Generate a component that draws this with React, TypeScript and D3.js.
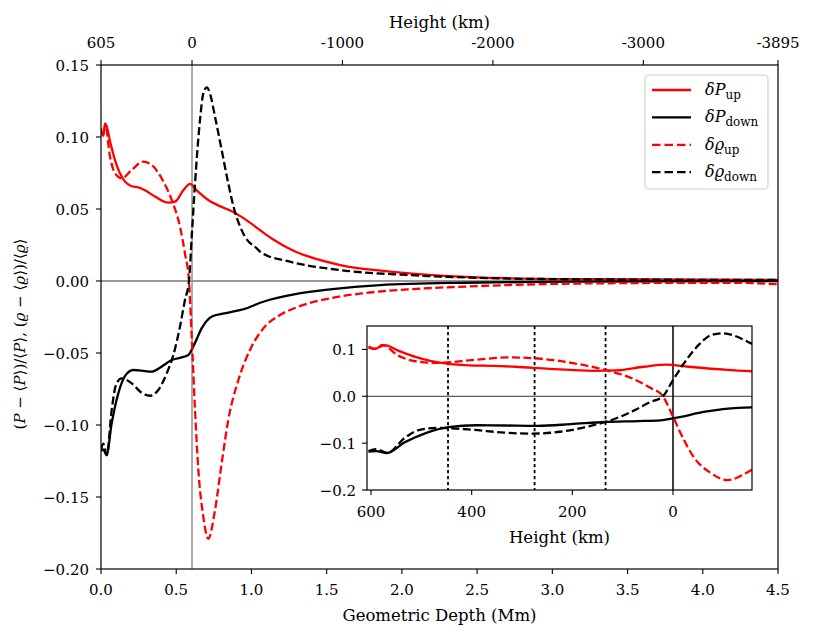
import React from 'react';
import * as d3 from 'd3';

// depth (Mm), relative perturbation
const pUp: [number, number][] = [
  [0, 0.106], [0.012, 0.101], [0.032, 0.109], [0.06, 0.097], [0.093, 0.084], [0.125, 0.075],
  [0.16, 0.069], [0.2, 0.066], [0.248, 0.065], [0.292, 0.063], [0.359, 0.0586], [0.447, 0.0544],
  [0.492, 0.0551], [0.547, 0.063], [0.592, 0.0674], [0.636, 0.063], [0.713, 0.0563], [0.79, 0.052],
  [0.869, 0.0485], [0.95, 0.0435], [1.068, 0.0345], [1.145, 0.0288], [1.29, 0.0205],
  [1.367, 0.0174], [1.59, 0.0111], [1.92, 0.0065], [2.25, 0.0037], [2.7, 0.0019], [3.36, 0.0012],
  [4.5, 0.0007],
];

const pDown: [number, number][] = [
  [0, -0.118], [0.015, -0.117], [0.037, -0.121], [0.071, -0.0988], [0.115, -0.078], [0.159, -0.066],
  [0.214, -0.0618], [0.27, -0.0623], [0.336, -0.063], [0.402, -0.0595], [0.469, -0.0549],
  [0.536, -0.053], [0.58, -0.0514], [0.613, -0.0456], [0.669, -0.0329], [0.735, -0.0248],
  [0.846, -0.022], [0.95, -0.0195], [1.079, -0.0144], [1.3, -0.009], [1.522, -0.0058],
  [1.855, -0.0028], [2.41, -0.0012], [3.14, -0.0005], [4.5, 0],
];

const rhoUp: [number, number][] = [
  [0, 0.104], [0.015, 0.101], [0.027, 0.1095], [0.06, 0.0863], [0.093, 0.0748], [0.138, 0.0713],
  [0.204, 0.0771], [0.281, 0.0829], [0.337, 0.0806], [0.403, 0.0713], [0.47, 0.0563], [0.525, 0.0377],
  [0.558, 0.0192], [0.585, 0.0], [0.603, -0.0387], [0.625, -0.0896], [0.647, -0.131], [0.68, -0.1637],
  [0.713, -0.179], [0.758, -0.159], [0.802, -0.1266], [0.846, -0.0965], [0.913, -0.0688],
  [0.99, -0.0479], [1.079, -0.0329], [1.19, -0.0236], [1.3, -0.0183], [1.522, -0.012],
  [1.744, -0.0085], [2.076, -0.0056], [2.52, -0.0035], [3.14, -0.0018], [4.2, -0.0012], [4.5, -0.0022],
];

const rhoDown: [number, number][] = [
  [0, -0.117], [0.015, -0.113], [0.038, -0.1208], [0.071, -0.0896], [0.1, -0.072], [0.137, -0.0676],
  [0.204, -0.0711], [0.27, -0.0776], [0.326, -0.0797], [0.381, -0.0757], [0.437, -0.0641],
  [0.481, -0.0514], [0.525, -0.0317], [0.558, -0.0132], [0.585, 0.0], [0.603, 0.0308],
  [0.625, 0.0678], [0.658, 0.1118], [0.68, 0.1303], [0.703, 0.1345], [0.725, 0.13], [0.758, 0.114],
  [0.802, 0.091], [0.846, 0.0678], [0.89, 0.0481], [0.925, 0.0377], [0.957, 0.0308], [1.035, 0.0227],
  [1.068, 0.0195], [1.256, 0.0134], [1.588, 0.0076], [2.03, 0.0042], [2.47, 0.0023], [3.14, 0.0012],
  [4.5, 0.0007],
];

const xTicks = [0, 0.5, 1, 1.5, 2, 2.5, 3, 3.5, 4, 4.5];
const yTicks = [-0.2, -0.15, -0.1, -0.05, 0, 0.05, 0.1, 0.15];
const topTicks = [605, 0, -1000, -2000, -3000, -3895];
const insetXTicks = [600, 400, 200, 0];
const insetYTicks = [-0.2, -0.1, 0, 0.1];
const markerHeights = [447, 275, 134];
const surfaceDepth = 0.605; // Mm, height 0

const series = [
  { key: 'Pup', data: pUp, color: '#ff0000', dash: '', name: 'P', sub: 'up' },
  { key: 'Pdown', data: pDown, color: '#000000', dash: '', name: 'P', sub: 'down' },
  { key: 'rup', data: rhoUp, color: '#ff0000', dash: '8,3.5', name: 'ϱ', sub: 'up' },
  { key: 'rdown', data: rhoDown, color: '#000000', dash: '8,3.5', name: 'ϱ', sub: 'down' },
];

const FONT = "'DejaVu Serif', 'Liberation Serif', serif";
const minus = (s: string) => s.replace('-', '−');

const W = 814, H = 640;
const L = 101, R = 778, T = 65, B = 569;
const IL = 367, IR = 752, IT = 326, IB = 490;

export default function App() {
  const x = d3.scaleLinear().domain([0, 4.5]).range([L, R]);
  const y = d3.scaleLinear().domain([-0.2, 0.15]).range([B, T]);
  const xTop = d3.scaleLinear().domain([605, -3895]).range([L, R]);
  const xIn = d3.scaleLinear().domain([608, -157]).range([IL, IR]);
  const yIn = d3.scaleLinear().domain([-0.2, 0.15]).range([IB, IT]);

  const mainLine = d3.line<[number, number]>()
    .x(d => x(d[0])).y(d => y(d[1])).curve(d3.curveMonotoneX);
  // inset uses height = 605 - depth(km); x decreasing with depth
  const insetLine = d3.line<[number, number]>()
    .x(d => xIn(605 - d[0] * 1000)).y(d => yIn(d[1])).curve(d3.curveMonotoneX);

  return (
    <svg width={W} height={H} style={{ position: 'absolute', left: 0, top: 0, background: '#fff', fontFamily: FONT }}>
      <defs>
        <clipPath id="mainClip"><rect x={L} y={T} width={R - L} height={B - T} /></clipPath>
        <clipPath id="insetClip"><rect x={IL} y={IT} width={IR - IL} height={IB - IT} /></clipPath>
      </defs>

      {/* reference lines */}
      <line x1={L} x2={R} y1={y(0)} y2={y(0)} stroke="#333" strokeWidth={1} />
      <line x1={x(surfaceDepth)} x2={x(surfaceDepth)} y1={T} y2={B} stroke="#999" strokeWidth={1.6} />

      <g clipPath="url(#mainClip)">
        {series.map(s => (
          <path key={s.key} d={mainLine(s.data) || ''} fill="none" stroke={s.color}
            strokeWidth={2.3} strokeDasharray={s.dash} />
        ))}
      </g>

      {/* main frame */}
      <rect x={L} y={T} width={R - L} height={B - T} fill="none" stroke="#000" strokeWidth={1.2} />

      {/* bottom axis */}
      {xTicks.map(t => (
        <g key={'x' + t}>
          <line x1={x(t)} x2={x(t)} y1={B} y2={B + 5} stroke="#000" strokeWidth={1.1} />
          <text x={x(t)} y={595} fontSize={15} textAnchor="middle">{d3.format('.1f')(t)}</text>
        </g>
      ))}
      <text x={(L + R) / 2} y={621} fontSize={16.5} textAnchor="middle">
        Geometric Depth (Mm)
      </text>

      {/* left axis */}
      {yTicks.map(t => (
        <g key={'y' + t}>
          <line x1={L - 5} x2={L} y1={y(t)} y2={y(t)} stroke="#000" strokeWidth={1.1} />
          <text x={89} y={y(t) + 5.5} fontSize={15} textAnchor="end">{minus(d3.format('.2f')(t))}</text>
        </g>
      ))}
      <text transform="translate(25,334) rotate(-90)" fontSize={15} textAnchor="middle">
        (<tspan fontStyle="italic">P</tspan> − ⟨<tspan fontStyle="italic">P</tspan>⟩)/⟨<tspan fontStyle="italic">P</tspan>⟩,
        (<tspan fontStyle="italic">ϱ</tspan> − ⟨<tspan fontStyle="italic">ϱ</tspan>⟩)/⟨<tspan fontStyle="italic">ϱ</tspan>⟩
      </text>

      {/* top axis */}
      {topTicks.map(t => (
        <g key={'t' + t}>
          <line x1={xTop(t)} x2={xTop(t)} y1={T - 5} y2={T} stroke="#000" strokeWidth={1.1} />
          <text x={xTop(t)} y={48} fontSize={15} textAnchor="middle">{String(t)}</text>
        </g>
      ))}
      <text x={(L + R) / 2} y={28} fontSize={16.5} textAnchor="middle">Height (km)</text>

      {/* legend */}
      <g>
        <rect x={645} y={75} width={123} height={114} rx={4} fill="#fff" fillOpacity={0.8}
          stroke="#d0d0d0" strokeWidth={1.2} />
        {series.map((s, i) => {
          const ly = 90 + i * 27.4;
          return (
            <g key={'lg' + s.key}>
              <line x1={652} x2={691} y1={ly} y2={ly} stroke={s.color} strokeWidth={2.3}
                strokeDasharray={s.dash ? '8.5,4' : ''} />
              <text x={705} y={ly + 5} fontSize={16}>
                <tspan fontStyle="italic">δ{s.name}</tspan>
                <tspan fontSize={12} dy={4}>{s.sub}</tspan>
              </text>
            </g>
          );
        })}
      </g>

      {/* inset */}
      <rect x={IL} y={IT} width={IR - IL} height={IB - IT} fill="#fff" />
      <line x1={IL} x2={IR} y1={yIn(0)} y2={yIn(0)} stroke="#333" strokeWidth={1} />
      {markerHeights.map(h => (
        <line key={'m' + h} x1={xIn(h)} x2={xIn(h)} y1={IT} y2={IB} stroke="#000" strokeWidth={1.8}
          strokeDasharray="3.3,2.7" />
      ))}
      <line x1={xIn(0)} x2={xIn(0)} y1={IT} y2={IB} stroke="#000" strokeWidth={1.5} />
      <g clipPath="url(#insetClip)">
        {series.map(s => (
          <path key={'in' + s.key} d={insetLine(s.data) || ''} fill="none" stroke={s.color}
            strokeWidth={2.3} strokeDasharray={s.dash} />
        ))}
      </g>
      <rect x={IL} y={IT} width={IR - IL} height={IB - IT} fill="none" stroke="#000" strokeWidth={1.2} />
      {insetXTicks.map(t => (
        <g key={'ix' + t}>
          <line x1={xIn(t)} x2={xIn(t)} y1={IB} y2={IB + 5} stroke="#000" strokeWidth={1.1} />
          <text x={xIn(t)} y={517} fontSize={15} textAnchor="middle">{String(t)}</text>
        </g>
      ))}
      <text x={(IL + IR) / 2} y={543} fontSize={16.5} textAnchor="middle">Height (km)</text>
      {insetYTicks.map(t => (
        <g key={'iy' + t}>
          <line x1={IL - 5} x2={IL} y1={yIn(t)} y2={yIn(t)} stroke="#000" strokeWidth={1.1} />
          <text x={356} y={yIn(t) + 5.5} fontSize={15} textAnchor="end">{minus(d3.format('.1f')(t))}</text>
        </g>
      ))}
    </svg>
  );
}
